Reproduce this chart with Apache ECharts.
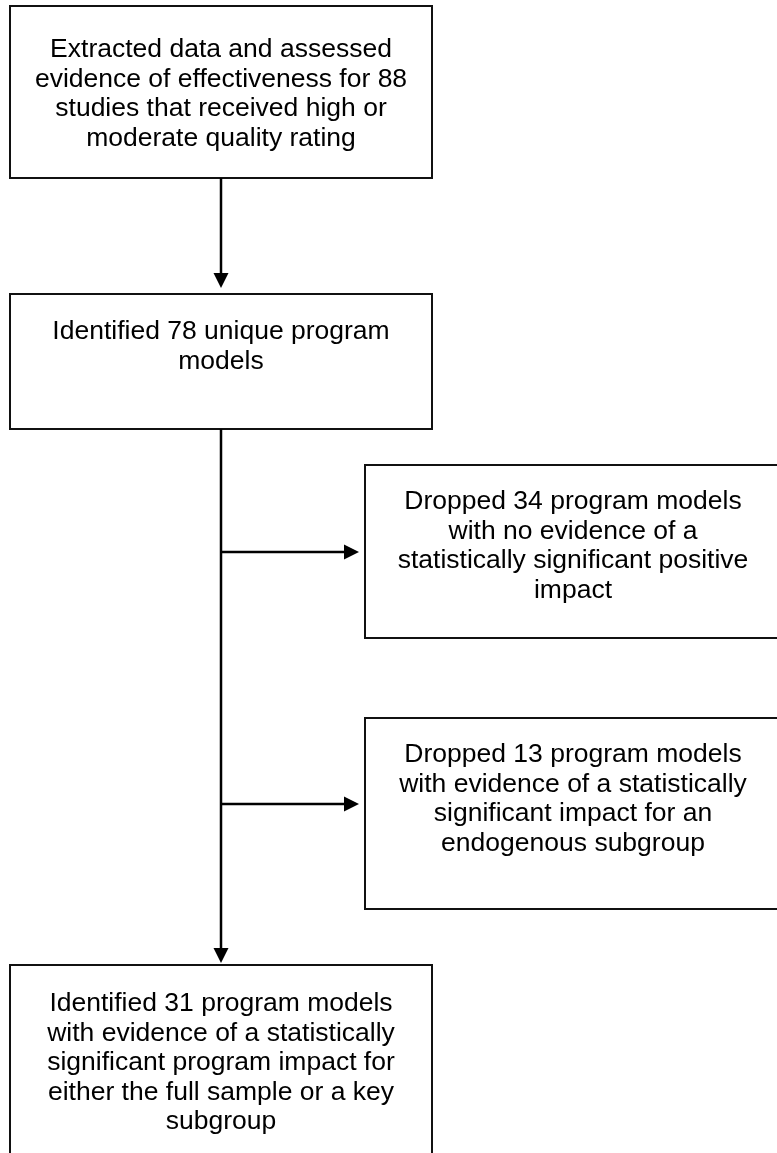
<!DOCTYPE html>
<html><head><meta charset="utf-8">
<script src="https://cdn.jsdelivr.net/npm/echarts@6/dist/echarts.min.js"></script>
<style>html,body{margin:0;padding:0;background:#fff}#c{width:777px;height:1153px}</style>
</head><body><div id="c"></div>
<script>
// ---- content ----
const boxTexts = [
  ['Extracted data and assessed', 'evidence of effectiveness for 88', 'studies that received high or', 'moderate quality rating'],
  ['Identified 78 unique program', 'models'],
  ['Dropped 34 program models', 'with no evidence of a', 'statistically significant positive', 'impact'],
  ['Dropped 13 program models', 'with evidence of a statistically', 'significant impact for an', 'endogenous subgroup'],
  ['Identified 31 program models', 'with evidence of a statistically', 'significant program impact for', 'either the full sample or a key', 'subgroup']
];
const flowLinks = [[0, 1], [1, 4], [1, 2], [1, 3]];

// ---- layout (page units on hidden axes) ----
const boxLayout = [
  [10, 6, 432, 178, 50],
  [10, 294, 432, 429, 332],
  [365, 465, 781, 638, 502],
  [365, 718, 781, 909, 755],
  [10, 965, 432, 1200, 1004]
];
const arrowLayout = [
  [221, 178, 221, 288],
  [221, 429, 221, 963],
  [221, 552, 359, 552],
  [221, 804, 359, 804]
];
const LH = 29.5;
const FONT = '26.5px "Liberation Sans", Arial, sans-serif';

const chart = echarts.init(document.getElementById('c'), null, { renderer: 'canvas' });
chart.setOption({
  animation: false,
  backgroundColor: '#fff',
  grid: { left: 0, right: 0, top: 0, bottom: 0 },
  xAxis: { type: 'value', min: 0, max: 777, show: false },
  yAxis: { type: 'value', min: 0, max: 1153, inverse: true, show: false },
  series: [
    {
      type: 'custom',
      clip: false,
      data: boxLayout,
      encode: { x: [0, 2], y: [1, 3] },
      renderItem: function (params, api) {
        const i = params.dataIndex;
        const p0 = api.coord([api.value(0), api.value(1)]);
        const p1 = api.coord([api.value(2), api.value(3)]);
        const pt = api.coord([0, api.value(4)]);
        const cx = (p0[0] + p1[0]) / 2;
        return {
          type: 'group',
          children: [
            {
              type: 'rect',
              shape: { x: p0[0], y: p0[1], width: p1[0] - p0[0], height: p1[1] - p0[1] },
              style: { fill: '#fff', stroke: '#111', lineWidth: 2 }
            },
            {
              type: 'text',
              style: {
                text: boxTexts[i].join('\n'),
                x: cx, y: pt[1] - LH / 2,
                align: 'center', verticalAlign: 'top',
                lineHeight: LH, font: FONT, fill: '#000'
              }
            }
          ]
        };
      }
    },
    {
      type: 'custom',
      clip: false,
      data: arrowLayout,
      encode: { x: [0, 2], y: [1, 3] },
      renderItem: function (params, api) {
        const a = api.coord([api.value(0), api.value(1)]);
        const b = api.coord([api.value(2), api.value(3)]);
        let dx = b[0] - a[0], dy = b[1] - a[1];
        const len = Math.sqrt(dx * dx + dy * dy);
        dx /= len; dy /= len;
        const hl = 15, hw = 7.5;
        const base = [b[0] - dx * hl, b[1] - dy * hl];
        return {
          type: 'group',
          children: [
            {
              type: 'line',
              shape: { x1: a[0], y1: a[1], x2: base[0], y2: base[1] },
              style: { stroke: '#000', lineWidth: 2.5 }
            },
            {
              type: 'polygon',
              shape: { points: [b, [base[0] - dy * hw, base[1] + dx * hw], [base[0] + dy * hw, base[1] - dx * hw]] },
              style: { fill: '#000' }
            }
          ]
        };
      }
    }
  ]
});
</script>
</body></html>
